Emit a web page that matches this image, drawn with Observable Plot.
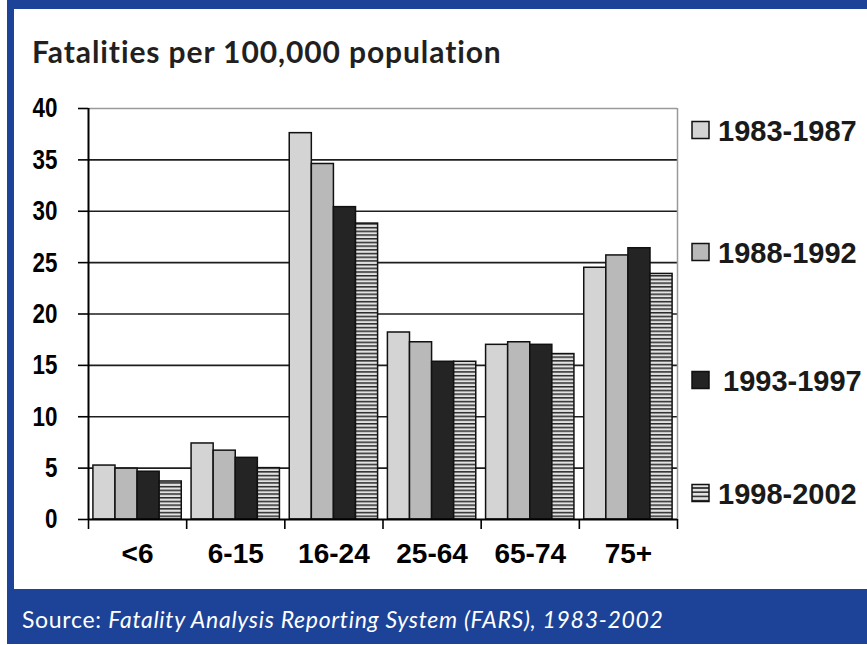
<!DOCTYPE html>
<html><head><meta charset="utf-8">
<script src="https://cdn.jsdelivr.net/npm/d3@7"></script>
<script src="https://cdn.jsdelivr.net/npm/@observablehq/plot@0.6"></script>
<style>
html,body{margin:0;padding:0;background:#fff;}
#page{position:relative;width:867px;height:645px;overflow:hidden;background:#fff;}
.blue{position:absolute;background:#1c4397;}
#chart{position:absolute;left:0;top:90px;}
#deco{position:absolute;left:0;top:0;}
</style></head><body>
<div id="page">
 <div class="blue" style="left:7px;top:0;width:860px;height:9px"></div>
 <div class="blue" style="left:7px;top:0;width:7px;height:590px"></div>
 <div class="blue" style="left:7px;top:589px;width:860px;height:55px"></div>
 <div id="chart"></div>
 <svg id="deco" width="867" height="645"></svg>
</div>
<script>
const categories = ["<6", "6-15", "16-24", "25-64", "65-74", "75+"];
const series = ["1983-1987", "1988-1992", "1993-1997", "1998-2002"];
const v1983_1987 = [5.25, 7.4, 37.6, 18.2, 17.0, 24.5];
const v1988_1992 = [4.95, 6.7, 34.6, 17.25, 17.25, 25.7];
const v1993_1997 = [4.65, 6.0, 30.4, 15.35, 17.0, 26.4];
const v1998_2002 = [3.7, 5.0, 28.8, 15.35, 16.1, 23.9];
const yTicks = [0, 5, 10, 15, 20, 25, 30, 35, 40];
const fills = ["#d4d4d4", "#b9b9b9", "#242424", "url(#hatch)"];
const titleText = "Fatalities per 100,000 population";

const values = [v1983_1987, v1988_1992, v1993_1997, v1998_2002];
const rows = [];
series.forEach((s, j) => values[j].forEach((v, i) => rows.push({
  cat: categories[i], series: s, value: v,
  x1: i + 0.05 + j * 0.225, x2: i + 0.05 + (j + 1) * 0.225
})));
const boundaries = d3.range(categories.length + 1);
const centers = categories.map((c, i) => i + 0.5);

const labFont = "'Liberation Sans',Arial,sans-serif";

const plot = Plot.plot({
  width: 700, height: 490,
  marginLeft: 88, marginRight: 23, marginTop: 18, marginBottom: 61,
  x: {domain: [0, categories.length], axis: null},
  y: {domain: [0, 40], axis: null},
  color: {domain: series, range: fills},
  style: {background: "transparent", overflow: "visible"},
  marks: [
    Plot.ruleY(yTicks.filter(t => t > 0 && t < 40), {stroke: "#1e1e1e", strokeWidth: 1.6}),
    Plot.ruleY([40], {stroke: "#9a9a9a", strokeWidth: 1.5}),
    Plot.ruleX([categories.length], {y1: 0, y2: 40, stroke: "#9a9a9a", strokeWidth: 1.5}),
    Plot.rectY(rows, {x1: "x1", x2: "x2", y: "value", fill: "series", stroke: "#111", strokeWidth: 1.5}),
    Plot.ruleY([0], {stroke: "#000", strokeWidth: 2}),
    Plot.ruleX([0], {y1: 0, y2: 40, stroke: "#000", strokeWidth: 2}),
    Plot.axisY({ticks: yTicks, tickSize: 10, tickPadding: 21, tickFormat: d => String(d), label: null,
      fontSize: 28, fontWeight: "bold", fontFamily: labFont, color: "#000", strokeWidth: 1.6}),
    Plot.axisX({ticks: boundaries, tickSize: 10, tickFormat: () => "", label: null, color: "#000", strokeWidth: 1.6}),
    Plot.axisX({ticks: centers, tickSize: 0, tickPadding: 24, tickFormat: d => categories[Math.floor(d)], label: null,
      fontSize: 28, fontWeight: "bold", fontFamily: labFont, color: "#000"})
  ]
});
const ns = "http://www.w3.org/2000/svg";
const defs = document.createElementNS(ns, "defs");
defs.innerHTML = '<pattern id="hatch" patternUnits="userSpaceOnUse" width="8" height="3.7"><rect width="8" height="3.7" fill="#e2e2e2"/><rect width="8" height="1.5" fill="#2a2a2a"/></pattern>';
plot.prepend(defs);
document.getElementById("chart").appendChild(plot);

// condense the y tick labels (narrow bold face in the original): text is anchored at its right end (local x = 0)
plot.querySelectorAll('g[aria-label="y-axis tick label"] text').forEach(t => {
  const tr = t.getAttribute("transform") || "";
  t.setAttribute("transform", tr + " scale(0.8,1)");
});

// decorations: title, source, legend
const deco = d3.select("#deco");
deco.append("defs").html('<pattern id="hatchL" patternUnits="userSpaceOnUse" width="8" height="4.2"><rect width="8" height="4.2" fill="#e2e2e2"/><rect width="8" height="1.6" fill="#2a2a2a"/></pattern>');
deco.append("text").attr("x", 32).attr("y", 63).attr("font-family", "Lato, 'Noto Sans', sans-serif")
  .attr("font-weight", "bold").attr("font-size", 30).attr("letter-spacing", 0.9).attr("fill", "#231f20").text(titleText);
const src = deco.append("text").attr("x", 22).attr("y", 628).attr("font-family", "Lato, 'Noto Sans', sans-serif")
  .attr("font-size", 23).attr("letter-spacing", 0.7).attr("fill", "#fff");
src.append("tspan").text("Source: ");
src.append("tspan").attr("font-style", "italic").text("Fatality Analysis Reporting System (FARS), 1983-2002");
const legY = [130, 252, 380, 493];
const legFills = ["#d4d4d4", "#b9b9b9", "#242424", "url(#hatchL)"];
series.forEach((s, j) => {
  deco.append("rect").attr("x", 692).attr("y", legY[j] - 8.5).attr("width", 17).attr("height", 17)
    .attr("fill", legFills[j]).attr("stroke", "#111").attr("stroke-width", 1.5);
  deco.append("text").attr("x", j === 2 ? 723 : 718).attr("y", legY[j] + 10.5)
    .attr("font-family", labFont).attr("font-weight", "bold").attr("font-size", 29).attr("fill", "#1a1a1a").text(s);
});
</script>
</body></html>
